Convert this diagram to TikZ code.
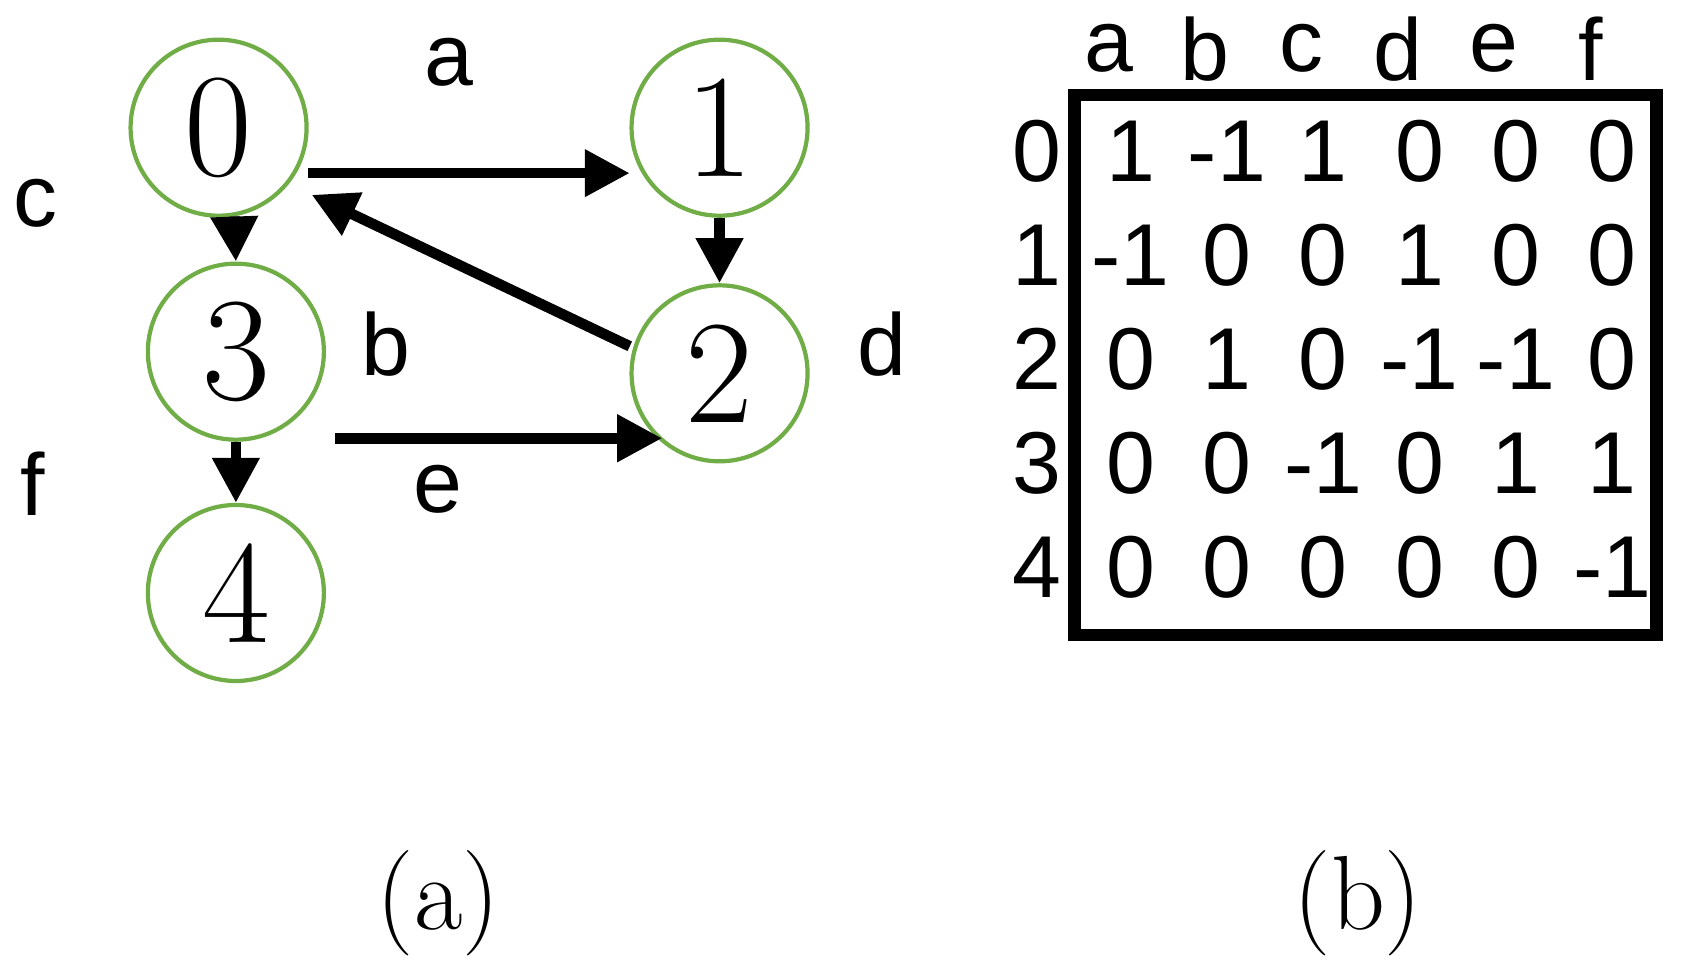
\documentclass[tikz,border=0pt]{standalone}
\usepackage{fontspec}
\newfontfamily\lblfont{Liberation Sans}
\usetikzlibrary{arrows.meta,positioning}
\definecolor{vgreen}{RGB}{112,173,71}
\begin{document}
\begin{tikzpicture}[x=0.1082mm, y=-0.1082mm,
		vertex/.style = {circle, draw = vgreen, line width = 1.2pt, minimum size = 17.6mm, inner sep = 0pt, font = \fontsize{42}{42}\selectfont},
		edge/.style = {line width = 3pt, -{Triangle[length = 4.5mm, width = 4.5mm]}},
		lbl/.style = {font = \lblfont\fontsize{25}{25}\selectfont, inner sep = 0pt},
		subcap/.style = {font = \fontsize{30}{30}\selectfont, inner sep = 0pt}
		]
\useasboundingbox (0,0) rectangle (1560,885);
\node[vertex] (v0) at (202,118){0};
\node[vertex] (v1) at (665,118){1};
\node[vertex] (v3) at (218,325){3};
\node[vertex] (v2) at (665,345){2};
\node[vertex] (v4) at (218,548){4};

\coordinate (a0) at (285,160);
\coordinate (a1) at (582,160);
\draw[edge] (a0) -- (a1);
\coordinate (b2) at (582,320);
\coordinate (b0) at (288,180);
\draw[edge] (b2) -- (b0);
\draw[edge] (v0.-80) -- (v3.90);
\draw[edge] (v1.-90) -- (v2.90);
\draw[edge] (v3.-90) -- (v4.90);
\coordinate (e3) at (310,405);
\coordinate (e2) at (612,405);
\draw[edge] (e3) -- (e2);

\node[lbl] (la) at (415,58){a};
\node[lbl] (lb) at (357,318){b};
\node[lbl] (lc) at (33,188){c};
\node[lbl] (ld) at (815,318){d};
\node[lbl] (le) at (405,452){e};
\node[lbl] (lf) at (30,447){f};

% matrix
\draw[line width = 3.5pt] (993,88) rectangle (1531,587);
\foreach \c [count = \i] in {a,b,c,d,e,f}
	\node[lbl] (col\i) at ({1025+89*(\i-1)},45){\c};
\foreach \r [count = \j] in {0,1,2,3,4}
	\node[lbl] (row\j) at (958,{140+96*(\j-1)}){\r};
\foreach \row [count = \j] in {{1,-1,1,0,0,0},{-1,0,0,1,0,0},{0,1,0,-1,-1,0},{0,0,-1,0,1,1},{0,0,0,0,0,-1}}
	\foreach \v [count = \i] in \row
		\node[lbl] (m\j\i) at ({1045+89*(\i-1)},{140+96*(\j-1)}){\v};

\node[subcap] (capa) at (405,835){(a)};
\node[subcap] (capb) at (1255,835){(b)};
\end{tikzpicture}
\end{document}
